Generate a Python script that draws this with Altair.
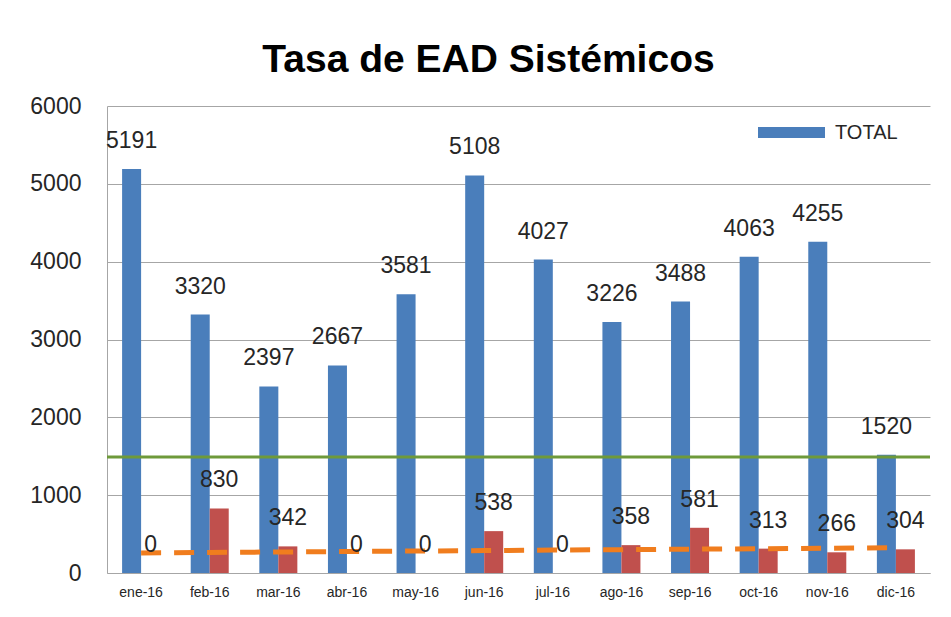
import altair as alt
import pandas as pd

months = ["ene-16", "feb-16", "mar-16", "abr-16", "may-16", "jun-16",
          "jul-16", "ago-16", "sep-16", "oct-16", "nov-16", "dic-16"]
total = [5191, 3320, 2397, 2667, 3581, 5108, 4027, 3226, 3488, 4063, 4255, 1520]
sistemicos = [0, 830, 342, 0, 0, 538, 0, 358, 581, 313, 266, 304]
tendencia = [258, 264, 270, 276, 282, 288, 294, 300, 306, 312, 318, 324]
meta = 1490
y_ticks = [0, 500, 1000, 1500, 2000, 2500, 3000, 3500, 4000, 4500, 5000, 5500, 6000]

series = ["TOTAL", "Sistémicos"]
rows = []
for m, t, s in zip(months, total, sistemicos):
    rows.append({"mes": m, "serie": "TOTAL", "valor": t})
    rows.append({"mes": m, "serie": "Sistémicos", "valor": s})
df = pd.DataFrame(rows)
trend_df = pd.DataFrame({"mes": months, "valor": tendencia})
meta_df = pd.DataFrame({"valor": [meta]})

FONT = "Liberation Sans"
BLUE = "#4A7EBB"
RED = "#C0504D"

x_enc = alt.X("mes:N", sort=months,
              scale=alt.Scale(paddingInner=0.446, paddingOuter=0.22),
              axis=alt.Axis(title=None, labelAngle=0, labelFontSize=14, labelFont=FONT,
                            labelColor="#262626", labelPadding=12, ticks=False,
                            domainColor="#A6A6A6", grid=False))
y_enc = alt.Y("valor:Q", scale=alt.Scale(domain=[0, 6000], nice=False),
              axis=alt.Axis(title=None, values=y_ticks, format="d", labelFontSize=23, labelFont=FONT,
                            labelColor="#262626", labelPadding=26, ticks=False,
                            domainColor="#A6A6A6", gridColor="#A6A6A6", gridWidth=1))
xoff = alt.XOffset("serie:N", sort=series, scale=alt.Scale(paddingInner=0, paddingOuter=0))

base = alt.Chart(df)

bars = base.mark_bar().encode(
    x=x_enc, y=y_enc, xOffset=xoff,
    color=alt.Color("serie:N", sort=series,
                    scale=alt.Scale(domain=series, range=[BLUE, RED]),
                    legend=alt.Legend(values=["TOTAL"], title=None, orient="none",
                                      legendX=651, legendY=-7,
                                      symbolType="M-1,-0.164L1,-0.164L1,0.164L-1,0.164Z",
                                      symbolSize=4489, symbolStrokeWidth=0,
                                      labelFontSize=20, labelFont=FONT, labelColor="#262626",
                                      labelOffset=10, padding=0)),
)

labels = base.mark_text(font=FONT, fontSize=23, color="#262626", baseline="middle", dy=-28).encode(
    x=alt.X("mes:N", sort=months), y="valor:Q", xOffset=xoff, text="valor:Q"
)

meta_rule = alt.Chart(meta_df).mark_rule(color="#6E9A3A", strokeWidth=3).encode(y="valor:Q")

trend = alt.Chart(trend_df).mark_line(color="#F07D1E", strokeWidth=5, strokeDash=[20, 13]).encode(
    x=alt.X("mes:N", sort=months), y="valor:Q"
)

chart = alt.layer(bars, meta_rule, trend, labels).properties(
    width=823, height=467,
    autosize=alt.AutoSizeParams(type="none"),
    padding={"left": 99, "top": 98, "right": 13, "bottom": 36},
    title=alt.TitleParams("Tasa de EAD Sistémicos", font=FONT, fontSize=39, fontWeight="bold",
                          color="#000000", anchor="middle", dx=-30, dy=47, frame="group",
                          baseline="alphabetic", offset=31),
    background="white",
).configure_view(stroke=None)

chart.save("out.html", embed_options={"renderer": "svg", "actions": False})
